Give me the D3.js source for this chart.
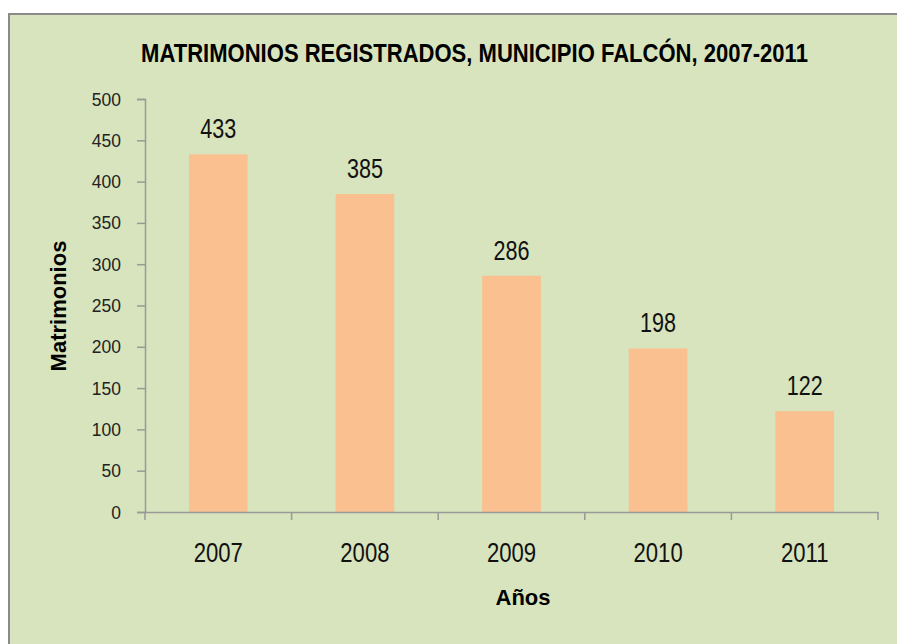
<!DOCTYPE html>
<html>
<head>
<meta charset="utf-8">
<script src="https://cdn.jsdelivr.net/npm/d3@7"></script>
<style>
  body { margin: 0; background: #fff; }
  svg { display: block; }
</style>
</head>
<body>
<div id="chart"></div>
<script>
// Data
const years = ["2007", "2008", "2009", "2010", "2011"];
const marriages = [433, 385, 286, 198, 122];
const yTicks = [0, 50, 100, 150, 200, 250, 300, 350, 400, 450, 500];

const titleText = "MATRIMONIOS REGISTRADOS, MUNICIPIO FALCÓN, 2007-2011";
const font = "'Liberation Sans', Arial, sans-serif";

const W = 897, H = 644;
const plot = { left: 145, right: 878, top: 99, bottom: 512 };

const svg = d3.select("#chart")
    .append("svg")
    .attr("width", W)
    .attr("height", H);

// Squeeze text horizontally around its anchor point (the source uses a narrow face)
function squeeze(sel, cx, cy, factor) {
    sel.attr("x", 0).attr("y", 0)
        .attr("transform", `translate(${cx},${cy}) scale(${factor},1)`);
}

// Chart area frame (runs off the right and bottom edges)
svg.append("rect")
    .attr("x", 9)
    .attr("y", 14)
    .attr("width", W + 20)
    .attr("height", H + 20)
    .attr("fill", "#d7e4bd")
    .attr("stroke", "#8a8a8a")
    .attr("stroke-width", 2);

// Scales
const x = d3.scaleBand()
    .domain(years)
    .range([plot.left, plot.right])
    .paddingInner(0.6)
    .paddingOuter(0.3);

const y = d3.scaleLinear()
    .domain([0, 500])
    .range([plot.bottom, plot.top]);

// Bars
svg.selectAll("rect.bar")
    .data(years)
    .enter()
    .append("rect")
    .attr("class", "bar")
    .attr("x", d => x(d))
    .attr("width", x.bandwidth())
    .attr("y", (d, i) => y(marriages[i]))
    .attr("height", (d, i) => y(0) - y(marriages[i]))
    .attr("fill", "#fac090");

// Y axis
const yAxis = svg.append("g")
    .attr("transform", `translate(${plot.left},0)`)
    .call(d3.axisLeft(y).tickValues(yTicks).tickSize(8).tickPadding(16).tickSizeOuter(8));
yAxis.selectAll("path, line").attr("stroke", "#999").attr("stroke-width", 1.5);
yAxis.selectAll("text")
    .attr("fill", "#222")
    .style("font-family", font)
    .style("font-size", "19px")
    .each(function() {
        d3.select(this).attr("x", 0).attr("transform", "translate(-24,0) scale(0.92,1)");
    });

// X axis line, ticks on band boundaries
const xAxis = svg.append("g")
    .attr("transform", `translate(0,${plot.bottom})`)
    .call(d3.axisBottom(x).tickSize(0).tickSizeOuter(0).tickFormat(""));
xAxis.select("path").attr("stroke", "#999").attr("stroke-width", 1.5);

const boundaries = d3.range(years.length + 1).map(i => plot.left + i * x.step());
xAxis.selectAll("line.bound")
    .data(boundaries)
    .enter()
    .append("line")
    .attr("class", "bound")
    .attr("x1", d => d)
    .attr("x2", d => d)
    .attr("y1", 0)
    .attr("y2", 8)
    .attr("stroke", "#999")
    .attr("stroke-width", 1.5);

// Category labels
svg.selectAll("text.cat")
    .data(years)
    .enter()
    .append("text")
    .attr("class", "cat")
    .attr("text-anchor", "middle")
    .attr("fill", "#111")
    .style("font-family", font)
    .style("font-size", "27px")
    .text(d => d)
    .each(function(d) {
        squeeze(d3.select(this), x(d) + x.bandwidth() / 2, 562, 0.82);
    });

// Value labels
svg.selectAll("text.value")
    .data(years)
    .enter()
    .append("text")
    .attr("class", "value")
    .attr("text-anchor", "middle")
    .attr("fill", "#111")
    .style("font-family", font)
    .style("font-size", "27px")
    .text((d, i) => marriages[i])
    .each(function(d, i) {
        squeeze(d3.select(this), x(d) + x.bandwidth() / 2, y(marriages[i]) - 16, 0.8);
    });

// Title
const title = svg.append("text")
    .attr("text-anchor", "middle")
    .attr("fill", "#000")
    .style("font-family", font)
    .style("font-weight", "bold")
    .style("font-size", "26px")
    .text(titleText);
squeeze(title, 474.5, 62, 667 / title.node().getComputedTextLength());

// Axis titles
svg.append("text")
    .attr("text-anchor", "middle")
    .attr("transform", "translate(66,306) rotate(-90)")
    .attr("fill", "#000")
    .style("font-family", font)
    .style("font-weight", "bold")
    .style("font-size", "22px")
    .text("Matrimonios");

svg.append("text")
    .attr("x", 523)
    .attr("y", 605)
    .attr("text-anchor", "middle")
    .attr("fill", "#000")
    .style("font-family", font)
    .style("font-weight", "bold")
    .style("font-size", "22px")
    .text("Años");
</script>
</body>
</html>
